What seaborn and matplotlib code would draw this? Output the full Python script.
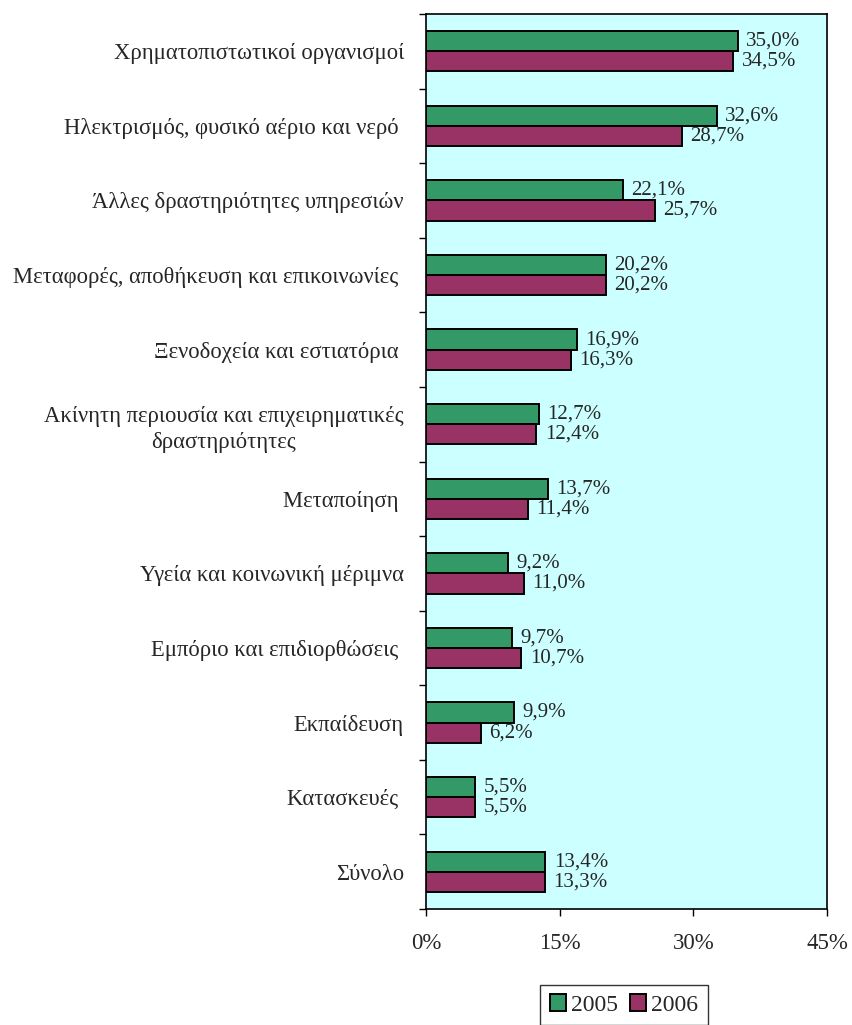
import pandas as pd
import seaborn as sns
import matplotlib.pyplot as plt
from matplotlib.ticker import FixedLocator, NullFormatter

# Data
categories = [
    "Χρηματοπιστωτικοί οργανισμοί",
    "Ηλεκτρισμός, φυσικό αέριο και νερό ",
    "Άλλες δραστηριότητες υπηρεσιών",
    "Μεταφορές, αποθήκευση και επικοινωνίες ",
    "Ξενοδοχεία και εστιατόρια ",
    "Ακίνητη περιουσία και επιχειρηματικές\nδραστηριότητες",
    "Μεταποίηση ",
    "Υγεία και κοινωνική μέριμνα",
    "Εμπόριο και επιδιορθώσεις ",
    "Εκπαίδευση",
    "Κατασκευές ",
    "Σύνολο",
]
values_2005 = [35.0, 32.6, 22.1, 20.2, 16.9, 12.7, 13.7, 9.2, 9.7, 9.9, 5.5, 13.4]
values_2006 = [34.5, 28.7, 25.7, 20.2, 16.3, 12.4, 11.4, 11.0, 10.7, 6.2, 5.5, 13.3]
years = ["2005", "2006"]
x_ticks = [0, 15, 30, 45]

df = pd.DataFrame({
    "category": categories * 2,
    "year": [years[0]] * len(categories) + [years[1]] * len(categories),
    "value": values_2005 + values_2006,
})

sns.set_theme(style="white")
plt.rcParams["font.family"] = ["Liberation Serif", "DejaVu Serif"]

colors = {"2005": "#339966", "2006": "#993366"}

fig = plt.figure(figsize=(8.53, 10.25), dpi=100)
ax = fig.add_axes([426 / 853, 1 - 909 / 1025, 401 / 853, 895 / 1025])
ax.set_facecolor("#CCFFFF")

sns.barplot(
    data=df, y="category", x="value", hue="year", orient="h",
    palette=colors, saturation=1,
    width=0.54, edgecolor="black", linewidth=1.4, ax=ax, legend=False,
)

# Value labels
for cont in ax.containers:
    labels = [f"{v:.1f}%".replace(".", ",") for v in cont.datavalues]
    ax.bar_label(cont, labels=labels, padding=6, fontsize=15)

ax.set_xlim(0, 45)
ax.set_ylim(len(categories) - 0.5, -0.5)
ax.set_xticks(x_ticks)
ax.set_xticklabels([f"{t}%" for t in x_ticks], fontsize=16.5)
ax.tick_params(axis="x", direction="out", length=5, width=1, color="black",
               pad=12, bottom=True)
ax.tick_params(axis="y", which="major", length=0, pad=16, labelsize=16.3)
ax.yaxis.set_minor_locator(FixedLocator([i - 0.5 for i in range(len(categories) + 1)]))
ax.yaxis.set_minor_formatter(NullFormatter())
ax.tick_params(axis="y", which="minor", direction="out", length=5, width=1,
               color="black", left=True)
for lbl in ax.get_yticklabels():
    lbl.set_horizontalalignment("right")
    lbl.set_multialignment("center")
    lbl.set_linespacing(1.35)

ax.set_xlabel("")
ax.set_ylabel("")
for s in ax.spines.values():
    s.set_color("black")
    s.set_linewidth(1.2)

handles = [plt.Rectangle((0, 0), 1, 1, facecolor=colors[y], edgecolor="black", linewidth=1.4)
           for y in years]
fig.legend(handles, years, loc="upper center", bbox_to_anchor=(624 / 853, 1 - 985 / 1025),
           borderaxespad=0, ncol=2, frameon=True, fancybox=False, edgecolor="black",
           fontsize=17, handlelength=0.7, handleheight=0.7, handletextpad=0.2,
           columnspacing=0.5, borderpad=0.4)

fig.savefig("out.png", dpi=100, facecolor="white")
